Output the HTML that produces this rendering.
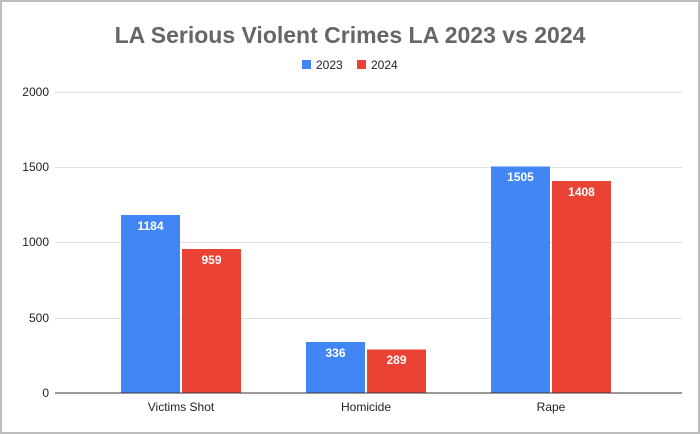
<!DOCTYPE html>
<html><head><style>
html,body{margin:0;padding:0;background:#fff}
svg{display:block;font-family:"Liberation Sans",Arial,sans-serif}
</style></head><body>
<svg width="700" height="434" viewBox="0 0 700 434" xmlns="http://www.w3.org/2000/svg">
<rect x="0" y="0" width="700" height="434" fill="#fff"/>
<rect x="1" y="1" width="698" height="432" fill="none" stroke="#bdbdbd" stroke-width="2"/>
<text x="350" y="43" text-anchor="middle" font-size="23" font-weight="bold" fill="#666">LA Serious Violent Crimes LA 2023 vs 2024</text>
<rect x="302" y="60" width="9" height="9" fill="#4285f4"/>
<text x="316" y="69" font-size="12" fill="#222">2023</text>
<rect x="357" y="60" width="9" height="9" fill="#ea4335"/>
<text x="371" y="69" font-size="12" fill="#222">2024</text>
<g stroke="#e0e0e0" stroke-width="1">
<line x1="55" y1="92.5" x2="682" y2="92.5"/>
<line x1="55" y1="167.5" x2="682" y2="167.5"/>
<line x1="55" y1="242.5" x2="682" y2="242.5"/>
<line x1="55" y1="318.5" x2="682" y2="318.5"/>
</g>
<g font-size="12" fill="#222" text-anchor="end">
<text x="49" y="96">2000</text>
<text x="49" y="171">1500</text>
<text x="49" y="246">1000</text>
<text x="49" y="322">500</text>
<text x="49" y="397">0</text>
</g>
<g fill="#4285f4">
<rect x="121" y="215" width="59" height="178"/>
<rect x="306" y="342" width="59" height="51"/>
<rect x="491" y="166.5" width="59" height="226.5"/>
</g>
<g fill="#ea4335">
<rect x="182" y="249" width="59" height="144"/>
<rect x="367" y="349.5" width="59" height="43.5"/>
<rect x="552" y="181" width="59" height="212"/>
</g>
<line x1="55" y1="393" x2="682" y2="393" stroke="#333" stroke-width="1"/>
<g font-size="12" fill="#fff" font-weight="bold" text-anchor="middle">
<text x="150.5" y="230">1184</text>
<text x="211.5" y="264">959</text>
<text x="335.5" y="357">336</text>
<text x="396.5" y="364">289</text>
<text x="520.5" y="181">1505</text>
<text x="581.5" y="196">1408</text>
</g>
<g font-size="12" fill="#222" text-anchor="middle">
<text x="181" y="411">Victims Shot</text>
<text x="366" y="411">Homicide</text>
<text x="551" y="411">Rape</text>
</g>
</svg>
</body></html>
